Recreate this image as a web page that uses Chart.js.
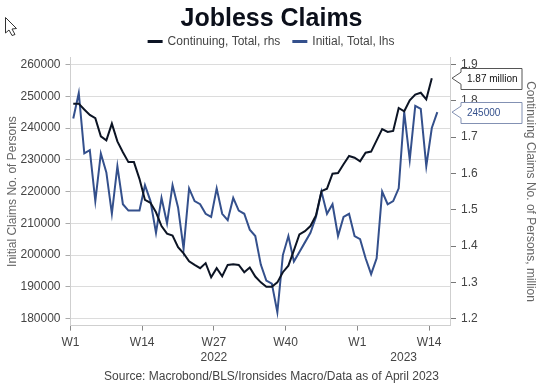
<!DOCTYPE html>
<html>
<head>
<meta charset="utf-8">
<script src="https://cdn.jsdelivr.net/npm/chart.js@4"></script>
<style>
  html, body { margin: 0; padding: 0; background: #fff; }
  canvas { display: block; }
</style>
</head>
<body>
<canvas id="jobless" width="547" height="388"></canvas>
<script>
// weekly values, first week is W1 2022
const initialClaims = [
  243000, 251000, 232000, 233000, 217000, 232000, 226000, 213000, 228000, 216000,
  214000, 214000, 214000, 222000, 217000, 207000, 218000, 210000, 222000, 215000,
  202000, 221000, 217000, 216000, 213000, 212000, 221000, 213000, 211000, 218000,
  214000, 213000, 208000, 206000, 197000, 192000, 191000, 182000, 200000, 206000,
  198000, 201000, 204000, 207000, 212000, 220000, 213000, 216000, 206000, 212000,
  213000, 206000, 205000, 199000, 194000, 199000, 220000, 216000, 217000, 221000,
  245000, 230000, 247000, 246000, 228000, 240000, 245000
];
const continuingClaims = [
  1.792, 1.792, 1.776, 1.761, 1.752, 1.702, 1.691, 1.737, 1.688, 1.658,
  1.631, 1.631, 1.585, 1.527, 1.519, 1.493, 1.455, 1.434, 1.429, 1.397,
  1.380, 1.358, 1.348, 1.339, 1.353, 1.314, 1.339, 1.317, 1.348, 1.350,
  1.348, 1.328, 1.341, 1.316, 1.300, 1.288, 1.288, 1.300, 1.328, 1.346,
  1.388, 1.432, 1.441, 1.455, 1.484, 1.551, 1.558, 1.599, 1.601, 1.625,
  1.648, 1.643, 1.633, 1.657, 1.660, 1.691, 1.722, 1.714, 1.717, 1.780,
  1.771, 1.801, 1.817, 1.822, 1.804, 1.862
];
const leftTicks = [180000, 190000, 200000, 210000, 220000, 230000, 240000, 250000, 260000];
const rightTicks = [1.2, 1.3, 1.4, 1.5, 1.6, 1.7, 1.8, 1.9];
const weekTicks = [0, 13, 26, 39, 52, 65];
const weekLabels = ['W1', 'W14', 'W27', 'W40', 'W1', 'W14'];
const yearTicks = [26, 60.4];
const yearLabels = ['2022', '2023'];

const BLACK = '#0c1424';
const BLUE = '#34508c';
const GREY = '#444444';
const GRID = '#dcdcdc';
const FONT = '"Liberation Sans", Arial, sans-serif';

Chart.defaults.font.family = FONT;
Chart.defaults.font.size = 12;
Chart.defaults.color = GREY;

// each point sits in the middle of its week
const toPoints = (values) => values.map((v, i) => ({ x: i + 0.5, y: v }));
const fixedTicks = (values) => (scale) => {
  scale.ticks = values.map((v) => ({ value: v }));
};

// the two boxes at the end of the lines, and the stray mouse arrow
const callouts = {
  id: 'callouts',
  afterDraw(chart) {
    const ctx = chart.ctx;
    const right = chart.scales.yRight;
    const left = chart.scales.yLeft;
    drawCallout(ctx, right.getPixelForValue(continuingClaims[continuingClaims.length - 1]), '1.87 million', '#555555', '#111111');
    drawCallout(ctx, left.getPixelForValue(initialClaims[initialClaims.length - 1]), '245000', '#8391b3', BLUE);
    drawCursor(ctx);
  }
};

function drawCallout(ctx, y, text, line, color) {
  const tip = 452, box = 461, end = 522, h = 21;
  const top = Math.round(y - h / 2) + 0.5;
  ctx.save();
  ctx.fillStyle = '#fff';
  ctx.strokeStyle = line;
  ctx.lineWidth = 1;
  ctx.beginPath();
  ctx.moveTo(tip, y);
  ctx.lineTo(box, y - 6);
  ctx.lineTo(box, top);
  ctx.lineTo(end, top);
  ctx.lineTo(end, top + h);
  ctx.lineTo(box, top + h);
  ctx.lineTo(box, y + 6);
  ctx.closePath();
  ctx.fill();
  ctx.stroke();
  ctx.fillStyle = color;
  ctx.font = '10px ' + FONT;
  ctx.textBaseline = 'middle';
  ctx.textAlign = 'left';
  ctx.fillText(text, 467, top + h / 2 + 0.5);
  ctx.restore();
}

function drawCursor(ctx) {
  ctx.save();
  ctx.fillStyle = '#fff';
  ctx.strokeStyle = '#333';
  ctx.lineWidth = 1;
  ctx.beginPath();
  ctx.moveTo(5.5, 17.5);
  ctx.lineTo(16.5, 28.5);
  ctx.lineTo(12, 29);
  ctx.lineTo(15, 34.5);
  ctx.lineTo(12, 35.5);
  ctx.lineTo(9, 30);
  ctx.lineTo(5.5, 33);
  ctx.closePath();
  ctx.fill();
  ctx.stroke();
  ctx.restore();
}

new Chart(document.getElementById('jobless'), {
  type: 'line',
  data: {
    datasets: [
      {
        label: 'Continuing, Total, rhs',
        data: toPoints(continuingClaims),
        yAxisID: 'yRight',
        borderColor: BLACK,
        backgroundColor: BLACK,
        borderWidth: 2,
        pointRadius: 0,
        tension: 0
      },
      {
        label: 'Initial, Total, lhs',
        data: toPoints(initialClaims),
        yAxisID: 'yLeft',
        borderColor: BLUE,
        backgroundColor: BLUE,
        borderWidth: 2,
        pointRadius: 0,
        tension: 0
      }
    ]
  },
  plugins: [callouts],
  options: {
    responsive: false,
    animation: false,
    layout: { padding: { right: 4 } },
    plugins: {
      tooltip: { enabled: false },
      title: {
        display: true,
        text: 'Jobless Claims',
        color: '#0b0f1a',
        font: { size: 25, weight: 'bold', family: FONT },
        padding: { top: 4.5, bottom: -12 }
      },
      legend: {
        display: true,
        position: 'top',
        labels: {
          boxWidth: 13,
          boxHeight: 1,
          padding: 13,
          color: GREY,
          font: { size: 12, family: FONT }
        }
      },
      subtitle: {
        display: true,
        position: 'bottom',
        text: 'Source: Macrobond/BLS/Ironsides Macro/Data as of April 2023',
        color: GREY,
        font: { size: 12, family: FONT },
        padding: { top: 0, bottom: 4 }
      }
    },
    scales: {
      x: {
        type: 'linear',
        position: 'bottom',
        min: 0,
        max: 68.8,
        weight: 0,
        afterBuildTicks: fixedTicks(weekTicks),
        afterFit(scale) { scale.height = 25; },
        grid: { drawOnChartArea: false, color: GRID, tickColor: '#888', tickLength: 5 },
        border: { color: '#cfcfcf' },
        ticks: {
          autoSkip: false,
          maxRotation: 0,
          padding: 4.5,
          callback: (v, i) => weekLabels[i]
        }
      },
      xYear: {
        type: 'linear',
        position: 'bottom',
        min: 0,
        max: 68.8,
        weight: 1,
        afterBuildTicks: fixedTicks(yearTicks),
        afterFit(scale) { scale.height = 19; },
        grid: { display: false, drawTicks: false },
        border: { display: false },
        ticks: {
          autoSkip: false,
          maxRotation: 0,
          padding: 0,
          callback: (v, i) => yearLabels[i]
        }
      },
      yLeft: {
        type: 'linear',
        position: 'left',
        min: 177800,
        max: 262200,
        afterBuildTicks: fixedTicks(leftTicks),
        afterFit(scale) { scale.width = 70.5; },
        grid: { color: GRID, tickColor: '#aaa', tickLength: 5 },
        border: { color: '#cfcfcf' },
        title: {
          display: true,
          text: 'Initial Claims No. of Persons',
          color: '#666',
          font: { size: 12, family: FONT },
          padding: { top: 5, bottom: 0 }
        },
        ticks: {
          autoSkip: false,
          padding: 5,
          callback: (v) => String(v)
        }
      },
      yRight: {
        type: 'linear',
        position: 'right',
        min: 1.181,
        max: 1.919,
        afterBuildTicks: fixedTicks(rightTicks),
        afterFit(scale) { scale.width = 93; },
        grid: { drawOnChartArea: false, tickColor: '#777', tickLength: 6 },
        border: { color: '#cfcfcf' },
        title: {
          display: true,
          text: 'Continuing Claims No. of Persons, million',
          color: '#666',
          font: { size: 12, family: FONT },
          padding: { top: 5, bottom: 0 }
        },
        ticks: {
          autoSkip: false,
          padding: 5,
          font: { size: 12 },
          callback: (v) => v.toFixed(1)
        }
      }
    }
  }
});
</script>
</body>
</html>
